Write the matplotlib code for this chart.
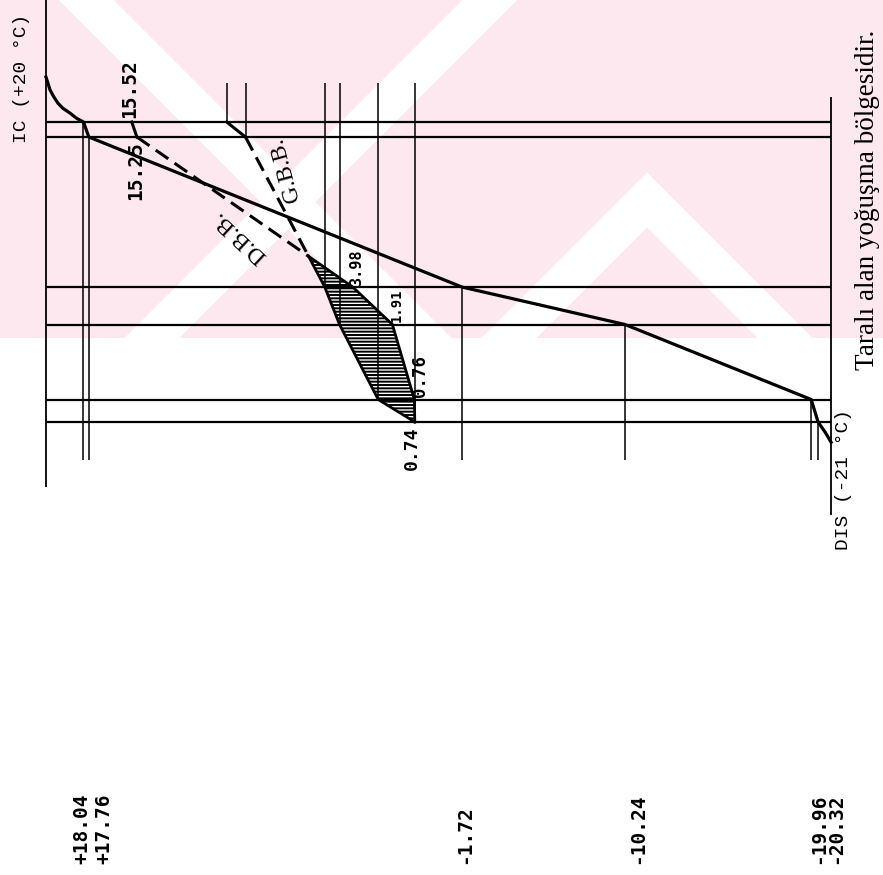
import numpy as np
import matplotlib.pyplot as plt
from matplotlib.patches import Rectangle

# wall layer boundaries, cm measured from the inner surface
layer_edges = [0, 2, 22, 27, 37, 40]
# temperatures at the boundaries (deg C)
surface_temps = [18.04, 17.76, -1.72, -10.24, -19.96, -20.32]
t_in, t_out = 20, -21
# air film curves (deg C / cm)
film_in_t = [20.0, 19.9, 19.79, 19.6, 19.37, 19.1, 18.75, 18.4, 18.04]
film_in_d = [-6.0, -5.2, -4.3, -3.4, -2.5, -1.8, -1.2, -0.5, 0]
film_out_t = [-20.32, -20.7, -21.0]
film_out_d = [40, 41.4, 42.7]
# vapour pressures at the boundaries (mmHg)
sat_p = [15.52, 15.25, 3.98, 1.91, 0.76, 0.74]   # D.B.B.
vap_p = [10.56, 9.58, 5.44, 4.67, 2.65, 0.74]    # G.B.B.
sat_labels = ['15.52', '15.25', '3.98', '1.91', '0.76', '0.74']
temp_labels = ['+18.04', '+17.76', '-1.72', '-10.24', '-19.96', '-20.32']

W, H = 883, 875
fig = plt.figure(figsize=(W / 100, H / 100), dpi=100)
ax = fig.add_axes([0, 0, 1, 1])
ax.set_xlim(22.40, -23.71)
ax.set_ylim(100.4, -16.27)
ax.axis('off')
plt.rcParams['hatch.linewidth'] = 1.4


def px(x, y):
    return (x / W, 1 - y / H)


# pale watermark of the scanned page
pink = '#fce8ee'
band = Rectangle((0, 1 - 338 / H), 1, 338 / H, transform=ax.transAxes,
                 color=pink, lw=0, zorder=0)
ax.add_patch(band)
stripes = [
    [(86, 0), (424, 338)],
    [(490, 0), (152, 338)],
    [(509, 338), (647, 200), (785, 338)],
]
for s in stripes:
    xs, ys = zip(*[px(*p) for p in s])
    ln, = ax.plot(xs, ys, transform=ax.transAxes, color='white', lw=28,
                  solid_joinstyle='miter', solid_capstyle='projecting', zorder=0.5)
    ln.set_clip_path(band)

# frame
ax.vlines(t_in, -16.3, 48.7, color='k', lw=1.3)
ax.vlines(t_out, -3.3, 52.4, color='k', lw=1.3)
ax.hlines(layer_edges, t_in, t_out, color='k', lw=1.6)
ax.vlines(surface_temps, layer_edges, 45.1, color='k', lw=1.1)
ax.vlines(vap_p, -5.2, layer_edges, color='k', lw=1.1)

# temperature line
temp_t = film_in_t + surface_temps[1:] + film_out_t[1:]
temp_d = film_in_d + layer_edges[1:] + film_out_d[1:]
ax.plot(temp_t, temp_d, color='k', lw=2.3, solid_joinstyle='round')

# where the two pressure lines cross in the second layer
s0, s1 = sat_p[1], sat_p[2]
v0, v1 = vap_p[1], vap_p[2]
f = (s0 - v0) / ((s0 - v0) - (s1 - v1))
d_x = layer_edges[1] + f * (layer_edges[2] - layer_edges[1])
p_x = s0 + f * (s1 - s0)

dash = (0, (5, 2.5))
for p in (sat_p, vap_p):
    ax.plot(p[:2], layer_edges[:2], color='k', lw=2.2)
    ax.plot([p[1], p_x], [layer_edges[1], d_x], color='k', lw=2.2, linestyle=dash)
    ax.plot([p_x] + p[2:], [d_x] + layer_edges[2:], color='k', lw=2.0)

# condensation zone
hd = [d_x] + layer_edges[2:]
ax.fill_betweenx(hd, [p_x] + vap_p[2:], [p_x] + sat_p[2:], facecolor='white',
                 edgecolor='k', hatch='-----', lw=0)

# pressure values
num = dict(family='DejaVu Sans Mono', weight='bold', rotation=90, ha='center')
offs = [(-2, 4, 'bottom', 14), (-1, -4, 'top', 14), (4, 1, 'bottom', 11),
        (4, 3, 'bottom', 10), (6, 3, 'bottom', 12.5), (-3, -4, 'top', 13)]
for p, d, lab, (ox, oy, va, fs) in zip(sat_p, layer_edges, sat_labels, offs):
    ax.annotate(lab, (p, d), xytext=(ox, oy), textcoords='offset pixels',
                va=va, fontsize=fs, **num)

ax.annotate('D.B.B.', ((sat_p[1] + p_x) / 2, (layer_edges[1] + d_x) / 2),
            xytext=(17, -40), textcoords='offset pixels', rotation=137,
            rotation_mode='anchor', ha='center', va='center',
            family='Liberation Serif', fontsize=17)
ax.annotate('G.B.B.', ((vap_p[1] + p_x) / 2, (layer_edges[1] + d_x) / 2),
            xytext=(8, 27), textcoords='offset pixels', rotation=105,
            rotation_mode='anchor', ha='center', va='center',
            family='Liberation Serif', fontsize=17)

# temperature values along the bottom
tr = ax.get_xaxis_transform()
shift = [-2, 15, 3, 13, 7, 18]
for t, lab, sx in zip(surface_temps, temp_labels, shift):
    ax.annotate(lab, (t, 1 - 864 / H), xycoords=tr, xytext=(sx, 0),
                textcoords='offset pixels', va='bottom', fontsize=14, **num)

ax.text(*px(22, 143), 'IC (+20 °C)', transform=ax.transAxes, rotation=90,
        ha='center', va='bottom', family='Liberation Mono', fontsize=14)
ax.text(*px(843, 550), 'DIS (-21 °C)', transform=ax.transAxes, rotation=90,
        ha='center', va='bottom', family='Liberation Mono', fontsize=14)
ax.text(*px(868, 370), 'Taralı alan yoğuşma bölgesidir.', transform=ax.transAxes,
        rotation=90, ha='center', va='bottom', family='Liberation Serif',
        fontsize=19.5)

fig.savefig('out.png', dpi=100)
